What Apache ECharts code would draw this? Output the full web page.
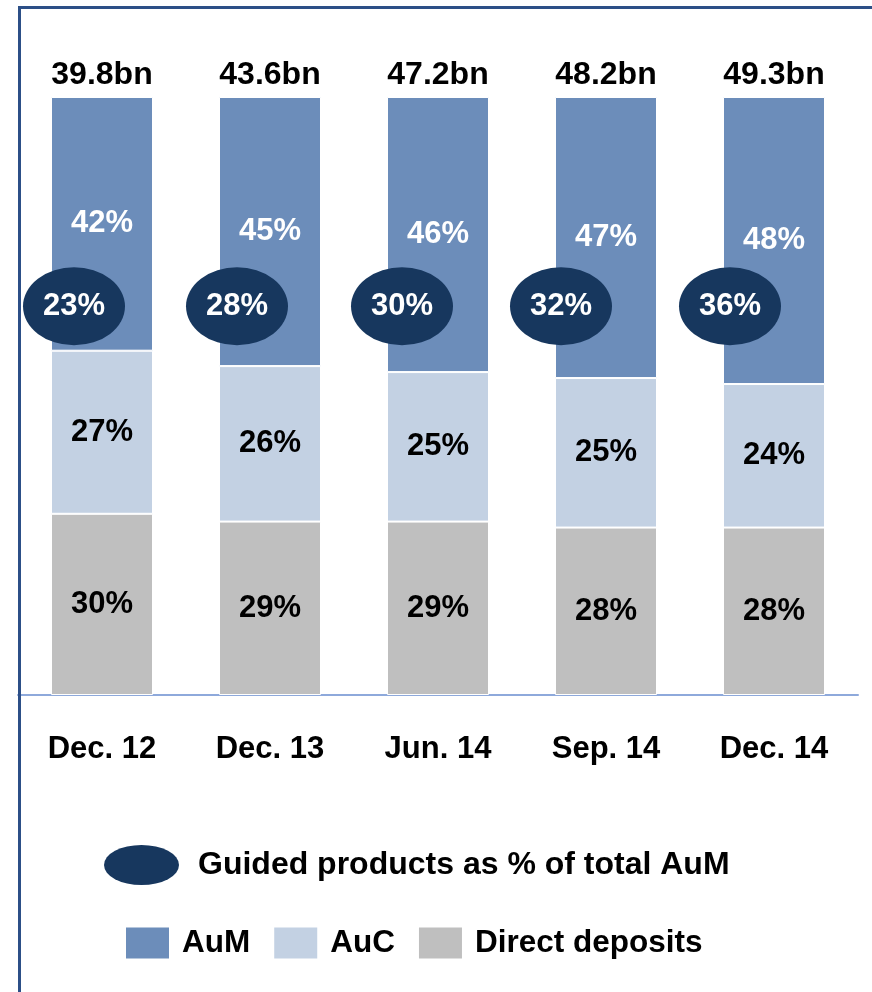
<!DOCTYPE html>
<html>
<head>
<meta charset="utf-8">
<script src="https://cdn.jsdelivr.net/npm/echarts@6/dist/echarts.min.js"></script>
<style>
html,body{margin:0;padding:0;background:#fff;}
#chart{width:872px;height:992px;}
</style>
</head>
<body>
<div id="chart"></div>
<script>
// ---- data ----
const categories = ['Dec. 12', 'Dec. 13', 'Jun. 14', 'Sep. 14', 'Dec. 14'];
const totalsBn = [39.8, 43.6, 47.2, 48.2, 49.3];
const directDeposits = [30, 29, 29, 28, 28];
const auc = [27, 26, 25, 25, 24];
const aum = [42, 45, 46, 47, 48];
const guidedShare = [23, 28, 30, 32, 36];

// ---- layout / style ----
const FONT = "'Liberation Sans', Arial, sans-serif";
const C_AUM = '#6C8DBA';
const C_AUC = '#C3D1E3';
const C_DIR = '#BFBFBF';
const C_OVAL = '#17375E';
const C_FRAME = '#2C4F87';
const OVAL_LEVEL = 65;          // vertical placement of the guided-share ovals
const ovalShift = [-28, -33, -36, -45, -44];
const ovalPath = 'path://M0,50A50,50 0 1,1 100,50A50,50 0 1,1 0,50Z';

const sums = categories.map((_, i) => directDeposits[i] + auc[i] + aum[i]);
const share = (arr) => arr.map((v, i) => ({ value: v / sums[i] * 100, raw: v }));

const segLabel = (color) => ({
  show: true,
  position: 'inside',
  color: color,
  fontFamily: FONT,
  fontWeight: 'bold',
  fontSize: 31,
  formatter: (p) => p.data.raw + '%'
});

const chart = echarts.init(document.getElementById('chart'), null, { renderer: 'canvas' });
chart.setOption({
  animation: false,
  backgroundColor: '#fff',
  grid: { left: 18, right: 14, top: 97, bottom: 297, containLabel: false },
  xAxis: {
    type: 'category',
    data: categories,
    axisLine: { lineStyle: { color: '#8EA9DB', width: 2 } },
    axisTick: { show: false },
    axisLabel: {
      margin: 39,
      color: '#000',
      fontFamily: FONT,
      fontWeight: 'bold',
      fontSize: 31
    }
  },
  yAxis: { type: 'value', min: 0, max: 100, show: false, splitLine: { show: false } },
  legend: [
    {
      left: 104, top: 845, padding: 0,
      itemWidth: 75, itemHeight: 40,
      symbolKeepAspect: false,
      selectedMode: false,
      data: [{ name: 'Guided products as % of total AuM', icon: ovalPath }],
      itemStyle: { color: C_OVAL, opacity: 1 },
      textStyle: { fontFamily: FONT, fontWeight: 'bold', fontSize: 32, color: '#000', padding: [3, 0, 0, 14] }
    },
    {
      left: 126, top: 927, padding: 0,
      itemWidth: 43, itemHeight: 31,
      itemGap: 24,
      selectedMode: false,
      icon: 'rect',
      data: ['AuM', 'AuC', 'Direct deposits'],
      itemStyle: { borderWidth: 0 },
      textStyle: { fontFamily: FONT, fontWeight: 'bold', fontSize: 31.5, color: '#000', padding: [2, 0, 0, 8] }
    }
  ],
  graphic: [
    { type: 'line', shape: { x1: 19.5, y1: 6, x2: 19.5, y2: 992 }, style: { stroke: C_FRAME, lineWidth: 3 }, z: 100 },
    { type: 'line', shape: { x1: 18, y1: 7.5, x2: 872, y2: 7.5 }, style: { stroke: C_FRAME, lineWidth: 3 }, z: 100 }
  ],
  series: [
    {
      name: 'Direct deposits', type: 'bar', stack: 'total', barWidth: 102,
      itemStyle: { color: C_DIR, borderColor: '#fff', borderWidth: 1 },
      label: segLabel('#000'),
      data: share(directDeposits)
    },
    {
      name: 'AuC', type: 'bar', stack: 'total', barWidth: 102,
      itemStyle: { color: C_AUC, borderColor: '#fff', borderWidth: 1 },
      label: segLabel('#000'),
      data: share(auc)
    },
    {
      name: 'AuM', type: 'bar', stack: 'total', barWidth: 102,
      itemStyle: { color: C_AUM, borderColor: '#fff', borderWidth: 1 },
      label: segLabel('#fff'),
      data: share(aum)
    },
    {
      name: 'Guided products as % of total AuM', type: 'scatter',
      symbol: ovalPath, symbolSize: [102, 78], symbolKeepAspect: false, z: 5,
      itemStyle: { color: C_OVAL, opacity: 1 },
      label: {
        show: true, position: 'inside', color: '#fff',
        fontFamily: FONT, fontWeight: 'bold', fontSize: 31,
        formatter: (p) => guidedShare[p.dataIndex] + '%'
      },
      data: guidedShare.map((v, i) => ({ value: OVAL_LEVEL, symbolOffset: [ovalShift[i], 0] }))
    },
    {
      name: 'totals', type: 'scatter', symbolSize: 0.1, silent: true,
      itemStyle: { color: 'transparent', opacity: 1 },
      label: {
        show: true, position: 'top', distance: 6, color: '#000',
        fontFamily: FONT, fontWeight: 'bold', fontSize: 32,
        formatter: (p) => totalsBn[p.dataIndex].toFixed(1) + 'bn'
      },
      data: totalsBn.map(() => 100)
    }
  ]
});
</script>
</body>
</html>
